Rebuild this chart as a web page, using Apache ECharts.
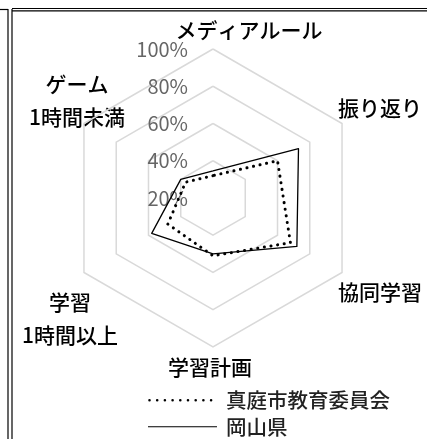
<!DOCTYPE html>
<html>
<head>
<meta charset="utf-8">
<script src="https://cdn.jsdelivr.net/npm/echarts@6/dist/echarts.min.js"></script>
<style>
  html, body { margin: 0; padding: 0; background: #fff; }
  #chart { width: 427px; height: 439px; }
</style>
</head>
<body>
<div id="chart"></div>
<script>
// 軸（ECharts は反時計回りに並べるので、この順で時計回りの見た目になる）
var axisNames = ["メディアルール", "ゲーム\n1時間未満", "学習\n1時間以上", "学習計画", "協同学習", "振り返り"];
var seriesNames = ["真庭市教育委員会", "岡山県"];
var maniwaValues = [32, 37, 48, 51, 68, 60];
var okayamaValues = [34.5, 40, 58, 50, 72, 73];
var axisMin = 20;
var axisMax = 100;

// 軸名の位置 [x, y, align]
var namePos = [
  [249, 30, "center"],
  [77, 101, "center"],
  [70, 319, "center"],
  [210, 367, "center"],
  [338, 292, "left"],
  [338, 108, "left"]
];

var FONT = "'Noto Sans CJK JP', 'Noto Sans', sans-serif";

var chartDom = document.getElementById("chart");
var myChart = echarts.init(chartDom);
var option;

// 凡例アイコン（点線・実線）
function dotIcon() {
  var p = "path://M0,0 L0.01,0 L0.01,0.01 Z M69,14 L69.01,14 L69.01,13.99 Z";
  for (var i = 0; i < 9; i++) {
    var cx = 1.5 + i * 7.7;
    p += " M" + (cx - 1.3) + ",7 a1.3,1.3 0 1,0 2.6,0 a1.3,1.3 0 1,0 -2.6,0 Z";
  }
  return p;
}
var solidIcon = "path://M0,0 L0.01,0 L0.01,0.01 Z M69,14 L69.01,14 L69.01,13.99 Z M0,6.4 L69,6.4 L69,7.6 L0,7.6 Z";

var indicators = axisNames.map(function (n, i) {
  var ind = { name: n, min: axisMin, max: axisMax };
  if (i === 0) {
    ind.axisLabel = { show: true };
  }
  return ind;
});

var graphics = namePos.map(function (p, i) {
  return {
    type: "text",
    x: p[0],
    y: p[1],
    silent: true,
    style: {
      text: axisNames[i],
      fill: "#000",
      font: "500 21px " + FONT,
      align: p[2],
      verticalAlign: "middle",
      lineHeight: 33
    }
  };
});
// 表の罫線
var border = { stroke: "#000", lineWidth: 1.2 };
graphics.push(
  { type: "line", shape: { x1: 0, y1: 9.5, x2: 8, y2: 9.5 }, style: border },
  { type: "line", shape: { x1: 12, y1: 8.5, x2: 427, y2: 8.5 }, style: border },
  { type: "line", shape: { x1: 12, y1: 10.8, x2: 427, y2: 10.8 }, style: border },
  { type: "line", shape: { x1: 8, y1: 9, x2: 8, y2: 439 }, style: border },
  { type: "line", shape: { x1: 12, y1: 9, x2: 12, y2: 439 }, style: border }
);

option = {
  animation: false,
  backgroundColor: "#fff",
  textStyle: { fontFamily: FONT },
  legend: {
    orient: "vertical",
    left: 143,
    top: 385,
    height: 80,
    itemWidth: 69,
    itemHeight: 14,
    itemGap: 6,
    itemStyle: { color: "#000", borderWidth: 0 },
    textStyle: { fontSize: 20.5, fontWeight: 500, color: "#222", fontFamily: FONT, padding: [0, 0, 0, 4] },
    data: [
      { name: seriesNames[0], icon: dotIcon() },
      { name: seriesNames[1], icon: solidIcon }
    ]
  },
  radar: {
    center: [213, 198],
    radius: 149,
    startAngle: 90,
    shape: "polygon",
    splitNumber: 4,
    indicator: indicators,
    axisName: { show: false },
    axisLine: { show: false },
    axisTick: { show: false },
    axisLabel: {
      show: false,
      color: "#666",
      fontSize: 20,
      fontFamily: FONT,
      margin: 25,
      formatter: "{value}%"
    },
    splitArea: { show: false },
    splitLine: { lineStyle: { color: "#d9d9d9", width: 1.5 } }
  },
  series: [
    {
      type: "radar",
      symbol: "none",
      data: [
        {
          name: seriesNames[0],
          value: maniwaValues,
          itemStyle: { color: "#000" },
          lineStyle: { color: "#000", width: 3, type: [0.1, 6.6], cap: "round" }
        },
        {
          name: seriesNames[1],
          value: okayamaValues,
          itemStyle: { color: "#000" },
          lineStyle: { color: "#000", width: 1.3, type: "solid" }
        }
      ]
    }
  ],
  graphic: graphics
};

option && myChart.setOption(option);
</script>
</body>
</html>
